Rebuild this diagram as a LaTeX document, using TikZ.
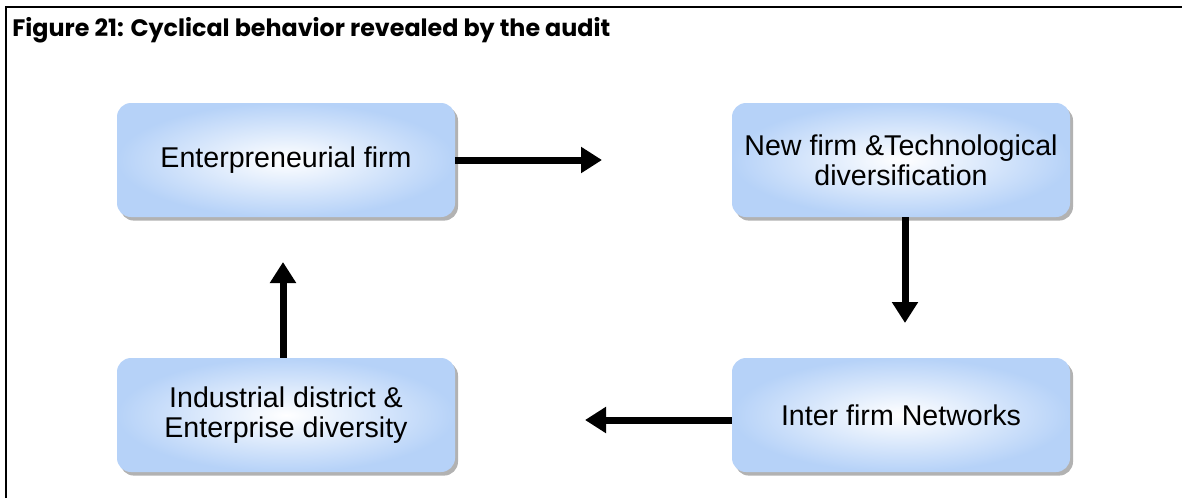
\documentclass[tikz,border=0pt]{standalone}
\usepackage{fontspec}
\setmainfont{Liberation Sans}
\newfontfamily\titlefont{Poppins}
\usetikzlibrary{arrows.meta,shadows}
\definecolor{boxblue}{RGB}{182,210,248}

\begin{document}
\begin{tikzpicture}[x=0.5pt, y=-0.5pt,
	stage/.style={rectangle, rounded corners=7pt, minimum width=169pt, minimum height=57pt, inner color=white, outer color=boxblue, drop shadow={shadow xshift=1.5pt, shadow yshift=-1.8pt, fill=black!60}, align=center, font=\fontsize{14.3}{15}\selectfont},
	flow/.style={line width=3.5pt, -{Triangle[length=10.5pt, width=12.5pt]}}]
	\useasboundingbox (0,0) rectangle (1182,498);
	\draw[line width=1.2pt] (6,498) -- (6,7) -- (1182,7);
	\node[anchor=base west, inner sep=0pt, font=\titlefont\bfseries\fontsize{11.9}{15}\selectfont] (title) at (12,36) {Figure 21: Cyclical behavior revealed by the audit};
	\node[stage] (entre) at (286,160) {Enterpreneurial firm};
	\node[stage] (newfirm) at (901,160) {New firm \&Technological\\diversification};
	\node[stage] (inter) at (901,415) {Inter firm Networks};
	\node[stage] (district) at (286,415) {Industrial district \&\\Enterprise diversity};
	\coordinate (toNew) at (602,160);
	\coordinate (toInter) at (905,323);
	\coordinate (toDistrict) at (585,420);
	\coordinate (toEntre) at (283,262);
	\draw[flow] (entre.east) -- (toNew);
	\draw[flow] (newfirm.south -| toInter) -- (toInter);
	\draw[flow] (inter.west |- toDistrict) -- (toDistrict);
	\draw[flow] (district.north -| toEntre) -- (toEntre);
\end{tikzpicture}
\end{document}
